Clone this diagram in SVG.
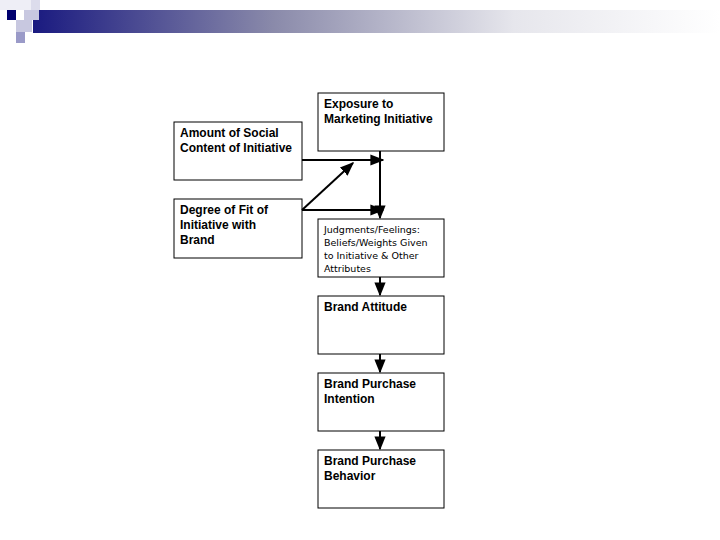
<svg xmlns="http://www.w3.org/2000/svg" width="720" height="540" viewBox="0 0 720 540">
<defs>
<linearGradient id="g" x1="0" x2="1" y1="0" y2="0"><stop offset="0" stop-color="#1a1a80"/><stop offset="0.35" stop-color="#8a8aaa"/><stop offset="0.7" stop-color="#e6e6ec"/><stop offset="1" stop-color="#ffffff"/></linearGradient>
<marker id="a" viewBox="0 0 10 10" refX="9" refY="5" markerWidth="7" markerHeight="7" orient="auto"><path d="M0,1 L10,5 L0,9 z" fill="#000"/></marker>
<style>.b{fill:#fff;stroke:#000;stroke-width:1}.t{font-family:"Liberation Sans",Arial,sans-serif;font-size:12px;font-weight:bold;fill:#000}.s{font-family:"DejaVu Sans",sans-serif;font-size:9.5px;fill:#000}.c{stroke:#000;stroke-width:2;fill:none;marker-end:url(#a)}</style>
</defs>
<rect x="33" y="10" width="687" height="23" fill="url(#g)"/>
<rect x="0" y="0" width="40" height="10" fill="#eeeef6"/>
<rect x="7" y="10" width="9" height="10" fill="#00006e"/>
<rect x="24" y="10" width="15" height="10" fill="#c8c8e0"/>
<rect x="31" y="0" width="9" height="10" fill="#dcdcec"/>
<rect x="16" y="20" width="16" height="12" fill="#c8c8e0"/>
<rect x="16" y="32" width="9" height="11" fill="#9a9ac8"/>
<g id="exposure"><rect class="b" x="318" y="93" width="126" height="58"/><text class="t" x="324" y="108">Exposure to</text><text class="t" x="324" y="123">Marketing Initiative</text></g>
<g id="amount"><rect class="b" x="174" y="122" width="128" height="58"/><text class="t" x="180" y="137">Amount of Social</text><text class="t" x="180" y="152">Content of Initiative</text></g>
<g id="degree"><rect class="b" x="174" y="199" width="128" height="59"/><text class="t" x="180" y="214">Degree of Fit of</text><text class="t" x="180" y="229">Initiative with</text><text class="t" x="180" y="244">Brand</text></g>
<g id="judgments"><rect class="b" x="318" y="219" width="126" height="58"/><text class="s" x="324" y="233">Judgments/Feelings:</text><text class="s" x="324" y="246">Beliefs/Weights Given</text><text class="s" x="324" y="259">to Initiative &amp; Other</text><text class="s" x="324" y="272">Attributes</text></g>
<g id="attitude"><rect class="b" x="318" y="296" width="126" height="58"/><text class="t" x="324" y="311">Brand Attitude</text></g>
<g id="intention"><rect class="b" x="318" y="373" width="126" height="58"/><text class="t" x="324" y="388">Brand Purchase</text><text class="t" x="324" y="403">Intention</text></g>
<g id="behavior"><rect class="b" x="318" y="450" width="126" height="58"/><text class="t" x="324" y="465">Brand Purchase</text><text class="t" x="324" y="480">Behavior</text></g>
<g id="connectors">
<path class="c" d="M380,151 V218"/>
<path class="c" d="M302,160 H383"/>
<path class="c" d="M302,210 H383"/>
<path class="c" d="M302,210 L353,163"/>
<path class="c" d="M380,277 V295"/>
<path class="c" d="M380,354 V372"/>
<path class="c" d="M380,431 V449"/>
</g>
</svg>
